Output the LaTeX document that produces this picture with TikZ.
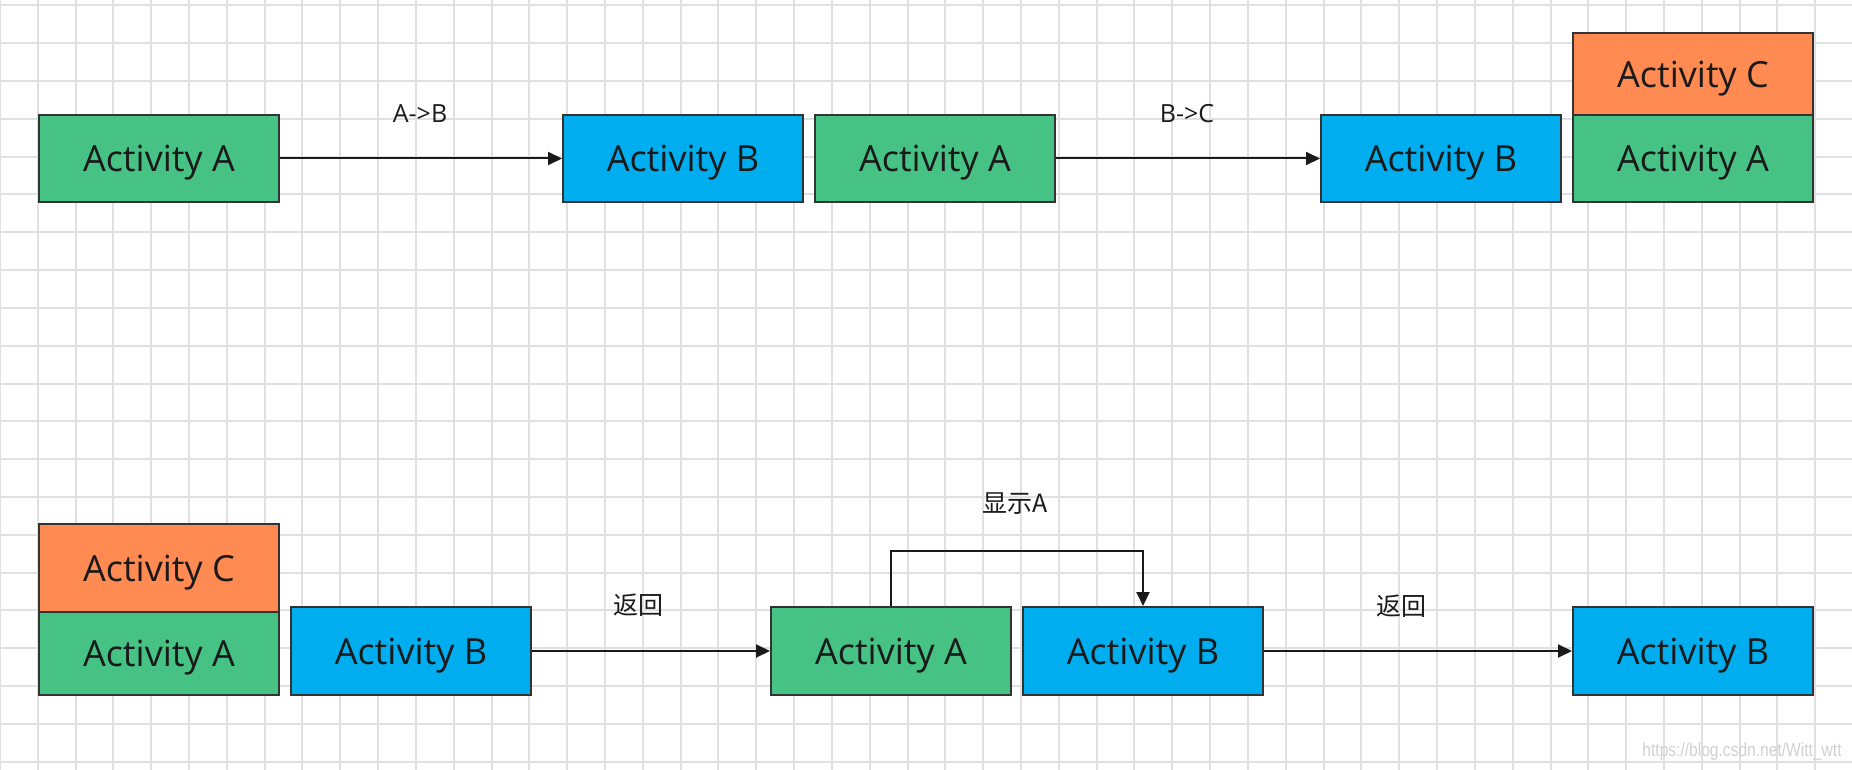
\documentclass[tikz,border=0pt]{standalone}
\usepackage{fontspec}
\usepackage{graphicx}
\setmainfont{Open Sans}
\newfontfamily\cjk{Noto Sans CJK SC}
\newfontfamily\wmfont{Liberation Sans}
\usetikzlibrary{arrows.meta}
\definecolor{gA}{HTML}{45C284}
\definecolor{bB}{HTML}{00AEEF}
\definecolor{oC}{HTML}{FF8A52}
\definecolor{bdr}{HTML}{333333}
\definecolor{txt}{HTML}{1A1A1A}
\definecolor{gridc}{HTML}{E0E0E0}
\begin{document}
\begin{tikzpicture}[x=1pt,y=-1pt,
  box/.style={draw=bdr, line width=2pt, minimum width=240pt, minimum height=87pt,
    inner sep=0pt, text depth=0pt, font=\fontsize{36}{40}\selectfont, text=txt},
  actA/.style={box, fill=gA},
  actB/.style={box, fill=bB},
  actC/.style={box, fill=oC},
  conn/.style={draw=txt, line width=2pt, -{Triangle[length=14pt,width=13pt]}},
  lbl/.style={font=\fontsize{25}{28}\selectfont, text=txt, inner sep=0pt},
  clbl/.style={font=\cjk\fontsize{25}{28}\selectfont, text=txt, inner sep=0pt}]
\useasboundingbox (0,0) rectangle (1852,770);
\fill[white] (0,0) rectangle (1852,770);
% grid
\foreach \i in {-1,...,48} \draw[gridc, line width=2pt] ({37.7+37.82*\i},0) -- ++(0,770);
\foreach \j in {0,...,20} \draw[gridc, line width=2pt] (0,{5.3+37.82*\j}) -- ++(1852,0);

% top row
\node[actA] (a1) at (159,158.5) {Activity A};
\node[actB] (b1) at (683,158.5) {Activity B};
\node[actA] (a2) at (935,158.5) {Activity A};
\node[actB] (b2) at (1441,158.5) {Activity B};
\node[actA] (a3) at (1693,158.5) {Activity A};
\node[actC, minimum height=82pt] (c1) at (1693,74) {Activity C};
\draw[conn] (a1.east) -- (b1.west);
\draw[conn] (a2.east) -- (b2.west);
\node[lbl] (l1) at (420,114) {A->B};
\node[lbl] (l2) at (1187,114) {B->C};

% bottom row
\node[actC, minimum height=88pt] (c2) at (159,568) {Activity C};
\node[actA, minimum height=83pt] (a4) at (159,653.5) {Activity A};
\node[actB, minimum height=88pt] (b3) at (411,651) {Activity B};
\node[actA, minimum height=88pt] (a5) at (891,651) {Activity A};
\node[actB, minimum height=88pt] (b4) at (1143,651) {Activity B};
\node[actB, minimum height=88pt] (b5) at (1693,651) {Activity B};
\coordinate (k1) at (891,551);
\coordinate (k2) at (1143,551);
\draw[conn] (b3.east) -- (a5.west);
\draw[conn] (b4.east) -- (b5.west);
\draw[conn] (a5.north) -- (k1) -- (k2) -- (b4.north);
\node[clbl] (l3) at (638,605) {返回};
\node[clbl] (l4) at (1401,606) {返回};
\node[clbl] (l5) at (1015,504) {显示A};

% watermark
\node[font=\wmfont\fontsize{19}{22}\selectfont, text=black!18, inner sep=0pt] (wm) at (1742,752) {\scalebox{0.82}[1]{https://blog.csdn.net/Witt\_wtt}};
\end{tikzpicture}
\end{document}
